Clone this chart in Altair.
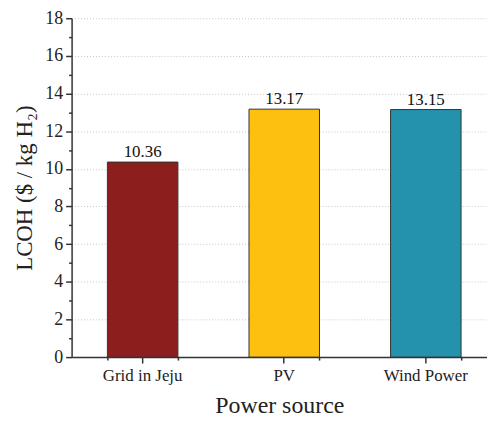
import altair as alt
import pandas as pd

sources = ["Grid in Jeju", "PV", "Wind Power"]
lcoh = [10.36, 13.17, 13.15]
colors = ["#8C1F1E", "#FDC010", "#2592AD"]
y_ticks = list(range(0, 19))

df = pd.DataFrame({"source": sources, "lcoh": lcoh, "label": [f"{v:.2f}" for v in lcoh]})

FONT = "Liberation Serif"

def x_scale():
    return alt.Scale(paddingInner=0.502, paddingOuter=0.218, align=0.58)

x_main = alt.X(
    "source:N",
    sort=sources,
    title="Power source",
    scale=x_scale(),
    axis=alt.Axis(
        labelAngle=0, labelFontSize=17, labelFont=FONT, labelColor="#222",
        titleFontSize=24, titleFont=FONT, titleFontWeight="normal", titleColor="#222",
        titlePadding=10, labelPadding=5,
        domainColor="#333", domainWidth=1.5, tickColor="#333", tickWidth=1.5, tickSize=6,
        grid=False,
    ),
)

y_axis = alt.Axis(
    values=y_ticks,
    labelExpr="datum.value % 2 == 0 ? datum.label : ''",
    labelFontSize=18, labelFont=FONT, labelColor="#222",
    titleFontSize=23, titleFont=FONT, titleFontWeight="normal", titleColor="#222",
    titlePadding=8, labelPadding=3,
    domainColor="#333", domainWidth=1.5, tickColor="#333", tickWidth=1.5,
    tickSize={"condition": {"test": "datum.value % 2 == 0", "value": 6}, "value": 3},
    grid=True, gridColor="#c8c8c8", gridDash=[1, 2], gridWidth=1,
    gridOpacity={"condition": {"test": "datum.value % 2 == 0 && datum.value > 0", "value": 1}, "value": 0},
)

def y_enc():
    return alt.Y(
        "lcoh:Q",
        title="LCOH ($ / kg H₂)",
        scale=alt.Scale(domain=[0, 18], nice=False),
        axis=y_axis,
    )

bars = alt.Chart(df).mark_bar(stroke="#333", strokeWidth=1).encode(
    x=x_main,
    y=y_enc(),
    color=alt.Color("source:N", scale=alt.Scale(domain=sources, range=colors), legend=None),
)

text = alt.Chart(df).mark_text(dy=-10, fontSize=17, font=FONT, color="#111").encode(
    x=alt.X("source:N", sort=sources),
    y=y_enc(),
    text="label:N",
)

minor = alt.Chart(df).mark_bar(opacity=0).encode(
    x=alt.X(
        "source:N", sort=sources, title=None,
        scale=x_scale(),
        axis=alt.Axis(orient="bottom", labels=False, domain=False, grid=False,
                      tickBand="extent", tickColor="#333", tickWidth=1.5, tickSize=3,
                      title=None),
    ),
    y=y_enc(),
)

chart = (
    alt.layer(alt.layer(bars, text), minor)
    .resolve_scale(x="independent")
    .properties(width=418, height=341, padding={"left": 6, "top": 0, "right": 0, "bottom": 2})
    .configure_view(stroke=None)
    .configure_text(font=FONT)
)

chart.save("out.html", embed_options={"renderer": "svg", "actions": False})
